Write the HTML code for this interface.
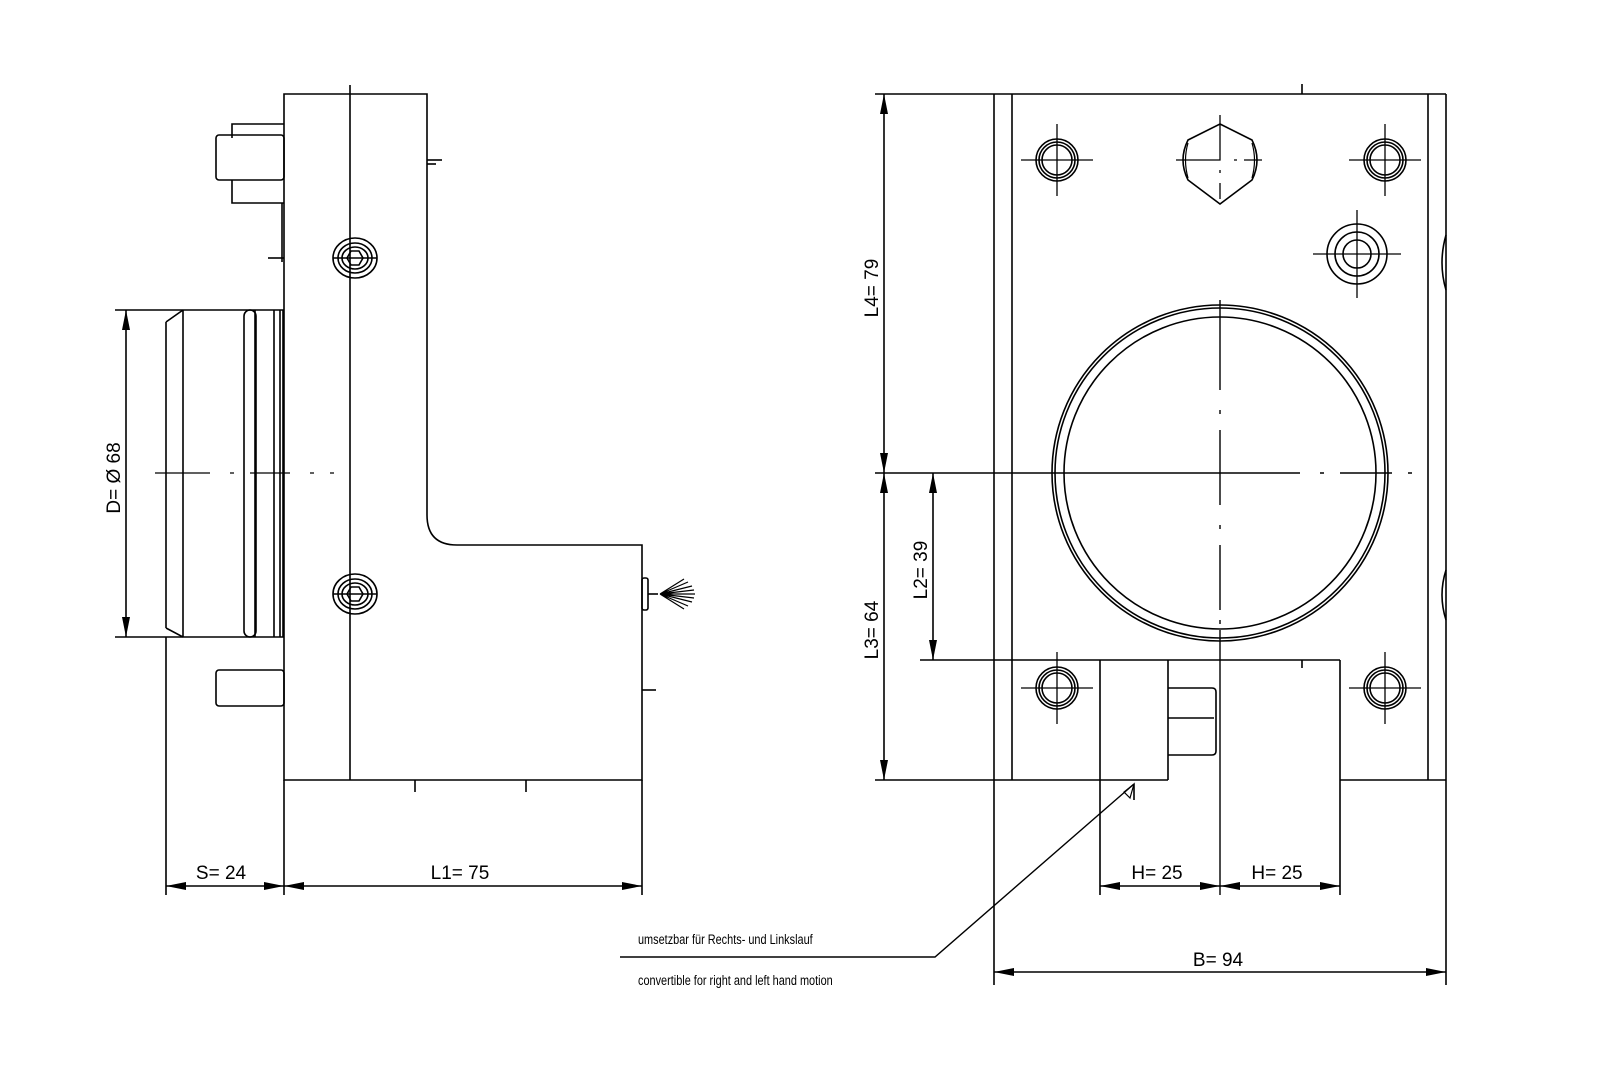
<!DOCTYPE html>
<html><head><meta charset="utf-8"><style>
html,body{margin:0;padding:0;background:#fff}
svg{display:block}
text{font-family:"Liberation Sans",sans-serif;fill:#000}
</style></head><body>
<svg width="1600" height="1087" viewBox="0 0 1600 1087" xmlns="http://www.w3.org/2000/svg">
<defs>
<marker id="a" viewBox="0 0 20 8" refX="20" refY="4" markerWidth="20" markerHeight="8" markerUnits="userSpaceOnUse" orient="auto-start-reverse"><path d="M0,0L20,4L0,8Z" fill="#000"/></marker>
</defs>
<g fill="none" stroke="#000" stroke-width="1.6">
<!-- LEFT VIEW -->
<path d="M284,94H427V515Q427,545 457,545H642V780H284Z"/>
<line x1="350" y1="85" x2="350" y2="780"/>
<line x1="427" y1="160" x2="442" y2="160"/><line x1="427" y1="164" x2="436" y2="164"/>
<line x1="642" y1="690" x2="656" y2="690"/>
<line x1="284" y1="780" x2="284" y2="895"/><line x1="642" y1="780" x2="642" y2="895"/>
<line x1="415" y1="780" x2="415" y2="792"/><line x1="526" y1="780" x2="526" y2="792"/>
<!-- screws -->
<g><ellipse cx="355" cy="258" rx="22" ry="20"/><ellipse cx="355" cy="258" rx="17" ry="15"/><ellipse cx="355" cy="258" rx="13" ry="11"/><path d="M347,258l4,-7h8l4,7l-4,7h-8z"/><line x1="333" y1="258" x2="377" y2="258"/></g>
<g><ellipse cx="355" cy="594" rx="22" ry="20"/><ellipse cx="355" cy="594" rx="17" ry="15"/><ellipse cx="355" cy="594" rx="13" ry="11"/><path d="M347,594l4,-7h8l4,7l-4,7h-8z"/><line x1="333" y1="594" x2="377" y2="594"/></g>
<!-- cylinder -->
<path d="M115,310H284M115,637H284"/>
<path d="M183,310V637M166,637V895M166,322L183,310M166,628L183,637M166,322V628"/>
<path d="M255,310V637M274,310V637M280,310V637M283,310V637"/>
<rect x="244" y="310" width="12" height="327" rx="6"/>
<!-- bolts -->
<path d="M284,124H232V138M232,180V203H284"/>
<rect x="216" y="135" width="68" height="45" rx="3"/>
<rect x="216" y="670" width="68" height="36" rx="3"/>
<line x1="282" y1="203" x2="282" y2="262"/><line x1="268" y1="258" x2="284" y2="258"/>
<!-- nozzle -->
<rect x="642" y="578" width="6" height="32" rx="2"/>
<line x1="648" y1="594" x2="658" y2="594"/>
<path d="M660,594l32,-8M660,594l34,-4M660,594l35,0M660,594l34,4M660,594l32,8M660,594l28,-12M660,594l28,12M660,594l24,-15M660,594l24,15" stroke-width="1.2"/>
<!-- centerline -->
<path d="M155,473H210M230,473h4M250,473H290M310,473h4M330,473h4" stroke-width="1.2"/>
<!-- D dim -->
<line x1="126" y1="310" x2="126" y2="637" marker-start="url(#a)" marker-end="url(#a)"/>
<!-- S/L1 dims -->
<line x1="166" y1="886" x2="284" y2="886" marker-start="url(#a)" marker-end="url(#a)"/>
<line x1="284" y1="886" x2="642" y2="886" marker-start="url(#a)" marker-end="url(#a)"/>

<!-- RIGHT VIEW -->
<line x1="875" y1="94" x2="1446" y2="94"/>
<line x1="1302" y1="84" x2="1302" y2="94"/>
<line x1="994" y1="94" x2="994" y2="985"/>
<line x1="1446" y1="94" x2="1446" y2="985"/>
<line x1="1012" y1="94" x2="1012" y2="780"/>
<line x1="1428" y1="94" x2="1428" y2="780"/>
<path d="M1446,235q-8,28 0,55M1446,570q-8,25 0,50"/>
<line x1="875" y1="780" x2="1168" y2="780"/>
<line x1="1340" y1="780" x2="1446" y2="780"/>
<line x1="920" y1="660" x2="1340" y2="660"/>
<path d="M1100,660V895M1168,660V780M1340,660V895M1302,660v8"/>
<path d="M1168,688H1212q4,0 4,4V751q0,4 -4,4H1168M1168,718H1214"/>
<!-- holes -->
<g id="h"><circle cx="1057" cy="160" r="21"/><circle cx="1057" cy="160" r="18"/><circle cx="1057" cy="160" r="15"/><path d="M1021,160h72M1057,124v72" stroke-width="1.3"/></g>
<g><circle cx="1385" cy="160" r="21"/><circle cx="1385" cy="160" r="18"/><circle cx="1385" cy="160" r="15"/><path d="M1349,160h72M1385,124v72" stroke-width="1.3"/></g>
<g><circle cx="1057" cy="688" r="21"/><circle cx="1057" cy="688" r="18"/><circle cx="1057" cy="688" r="15"/><path d="M1021,688h72M1057,652v72" stroke-width="1.3"/></g>
<g><circle cx="1385" cy="688" r="21"/><circle cx="1385" cy="688" r="18"/><circle cx="1385" cy="688" r="15"/><path d="M1349,688h72M1385,652v72" stroke-width="1.3"/></g>
<!-- counterbore -->
<circle cx="1357" cy="254" r="30"/><circle cx="1357" cy="254" r="22"/><circle cx="1357" cy="254" r="14"/>
<path d="M1313,254h88M1357,210v88" stroke-width="1.3"/>
<!-- hex -->
<path d="M1220,124L1252,140Q1262,160 1252,180L1220,204L1188,180Q1178,160 1188,140Z"/>
<path d="M1252,143q5,17 0,35M1188,143q-5,17 0,35" stroke-width="1.2"/>
<path d="M1176,160H1220V115M1234,160h3M1244,160h18M1220,170v3M1220,183v16" stroke-width="1.3"/>
<!-- big circle -->
<circle cx="1220" cy="473" r="168"/><circle cx="1220" cy="473" r="165"/><circle cx="1220" cy="473" r="156"/>
<path d="M875,473H1300M1320,473h4M1340,473H1392M1408,473h4M1412,473" stroke-width="1.4"/>
<path d="M1220,300V390M1220,410v4M1220,430V505M1220,525v4M1220,545V610M1220,620v4M1220,630V895" stroke-width="1.4"/>
<!-- dims -->
<line x1="884" y1="94" x2="884" y2="473" marker-start="url(#a)" marker-end="url(#a)"/>
<line x1="884" y1="473" x2="884" y2="780" marker-start="url(#a)" marker-end="url(#a)"/>
<line x1="933" y1="473" x2="933" y2="660" marker-start="url(#a)" marker-end="url(#a)"/>
<line x1="1100" y1="886" x2="1220" y2="886" marker-start="url(#a)" marker-end="url(#a)"/>
<line x1="1220" y1="886" x2="1340" y2="886" marker-start="url(#a)" marker-end="url(#a)"/>
<line x1="994" y1="972" x2="1446" y2="972" marker-start="url(#a)" marker-end="url(#a)"/>
<!-- leader -->
<path d="M1134,784L935,957H620" stroke-width="1.4"/>
<path d="M1134,784l-4,14l-6,-6z" stroke-width="1.2"/>
<line x1="1134" y1="784" x2="1134" y2="800"/>
</g>
<g font-size="19">
<text transform="translate(120,478) rotate(-90)" text-anchor="middle">D= Ø 68</text>
<text x="221" y="879" text-anchor="middle">S=  24</text>
<text x="460" y="879" text-anchor="middle">L1=  75</text>
<text transform="translate(878,288) rotate(-90)" text-anchor="middle">L4=  79</text>
<text transform="translate(878,630) rotate(-90)" text-anchor="middle">L3=  64</text>
<text transform="translate(927,570) rotate(-90)" text-anchor="middle">L2=  39</text>
<text x="1157" y="879" text-anchor="middle">H=  25</text>
<text x="1277" y="879" text-anchor="middle">H=  25</text>
<text x="1218" y="966" text-anchor="middle">B=  94</text>
</g>
<g font-size="14">
<text x="638" y="944" transform="translate(638,0) scale(0.78,1) translate(-638,0)">umsetzbar für Rechts- und Linkslauf</text>
<text x="638" y="985" transform="translate(638,0) scale(0.78,1) translate(-638,0)">convertible for right and left hand motion</text>
</g>
</svg>
</body></html>
